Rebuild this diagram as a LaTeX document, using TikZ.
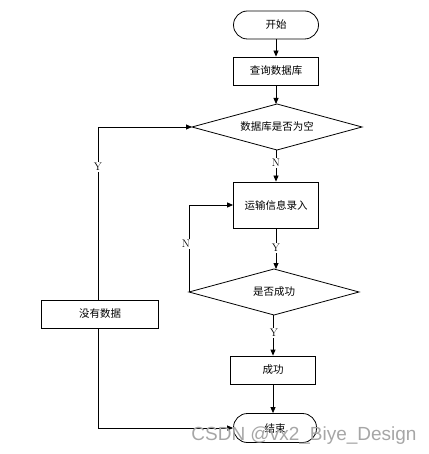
\documentclass[tikz,border=0pt]{standalone}
\usepackage{fontspec}
\newfontfamily\cjk{Noto Sans CJK SC}
\newfontfamily\wmfont{Liberation Sans}
\usetikzlibrary{shapes.geometric,arrows.meta}
\begin{document}
\begin{tikzpicture}[x=1pt,y=-1pt,
  every node/.style={font=\cjk\fontsize{10.5}{12}\selectfont},
  boxnode/.style={draw,line width=0.8pt,minimum width=85pt,minimum height=28pt,inner sep=0pt},
  termnode/.style={draw,line width=0.8pt,rounded corners=14pt,minimum width=85pt,minimum height=28pt,inner sep=0pt},
  conn/.style={line width=0.8pt,-{Triangle[length=6pt,width=5pt]}},
  lbl/.style={fill=white,inner sep=1pt,font=\fontsize{11}{12}\selectfont}]
\useasboundingbox (0,0) rectangle (428,454);
\node[termnode] (start) at (276,25) {开始};
\node[boxnode] (query) at (276,71) {查询数据库};
% diamond 1
\coordinate (d1n) at (277,104);
\coordinate (d1e) at (362,127);
\coordinate (d1s) at (277,150);
\coordinate (d1w) at (192,127);
\draw[line width=0.8pt] (d1n) -- (d1e) -- (d1s) -- (d1w) -- cycle;
\node (d1) at (277,127) {数据库是否为空};
\node[boxnode,minimum height=46pt] (input) at (276,205) {运输信息录入};
% diamond 2
\coordinate (d2n) at (274,269);
\coordinate (d2e) at (359,292);
\coordinate (d2s) at (274,315);
\coordinate (d2w) at (189,292);
\draw[line width=0.8pt] (d2n) -- (d2e) -- (d2s) -- (d2w) -- cycle;
\node (d2) at (274,292) {是否成功};
\node[boxnode] (ok) at (273,370) {成功};
\node[termnode,minimum width=83pt,minimum height=29pt] (end) at (275,428) {结束};
\node[boxnode,minimum width=117pt] (nodata) at (100,314) {没有数据};
\coordinate (c1) at (98,127);
\coordinate (c2) at (98,428);
\coordinate (c3) at (189,205);
\draw[conn] (start) -- (query);
\draw[conn] (query) -- (d1n -| query);
\draw[conn] (d1s -| input) -- (input);
\draw[conn] (input) -- (d2n -| input);
\draw[conn] (d2w) -- (c3) -- (input.west);
\draw[conn] (d2s -| ok) -- (ok);
\draw[conn] (ok) -- (end.north -| ok);
\draw[conn] (nodata.north -| c1) -- (c1) -- (d1w);
\draw[conn] (nodata.south -| c2) -- (c2) -- (end.west);
\node[lbl] (n1) at (276,163) {N};
\node[lbl] (y1) at (276,248) {Y};
\node[lbl] (n2) at (186,244) {N};
\node[lbl] (y2) at (274,333) {Y};
\node[lbl] (y3) at (98,167) {Y};
\node[font=\wmfont\fontsize{19}{20}\selectfont,text=black!35,inner sep=0pt] (wm) at (304,436) {CSDN @vx2\_Biye\_Design};
\end{tikzpicture}
\end{document}
